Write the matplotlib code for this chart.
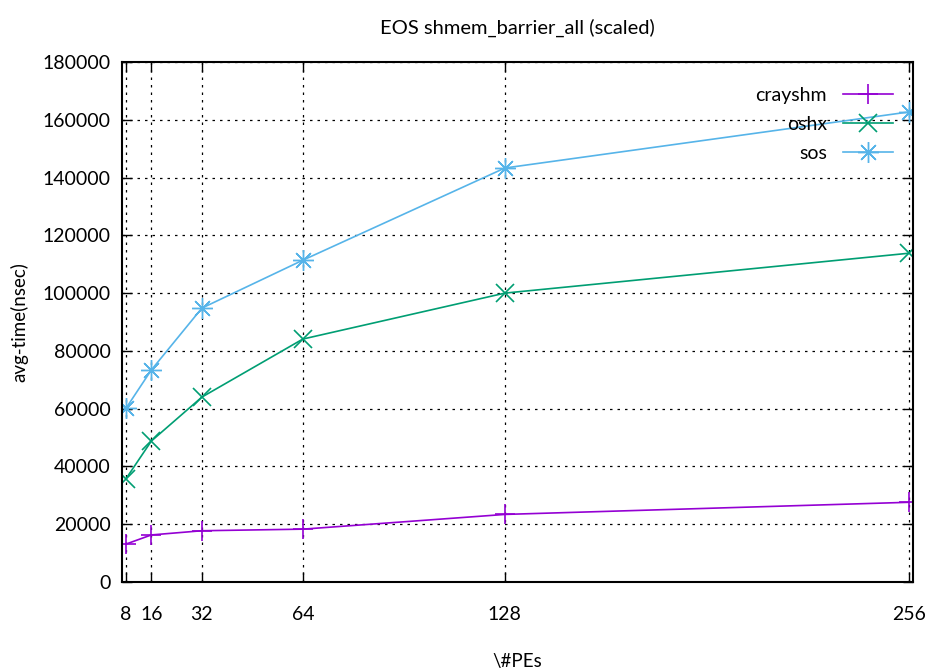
import matplotlib
matplotlib.use("Agg")
import matplotlib.pyplot as plt

plt.rcParams['font.family'] = ['Lato', 'DejaVu Sans']

pes = [8, 16, 32, 64, 128, 256]
crayshm = [13150, 16300, 17750, 18300, 23400, 27600]
oshx = [35800, 48800, 64000, 84100, 100000, 113800]
sos = [60200, 73400, 94800, 111400, 143300, 162700]
y_ticks = list(range(0, 180001, 20000))

fig = plt.figure(figsize=(9.32, 6.7), dpi=100)
ax = fig.add_axes([0.1309, 0.1313, 0.8487, 0.7762])

ax.plot(pes, crayshm, color='#9400d3', lw=1.2, marker='+', ms=14, mew=1.2,
        label='crayshm')
ax.plot(pes, oshx, color='#009e73', lw=1.2, marker='x', ms=13, mew=1.2,
        label='oshx')
ax.plot(pes, sos, color='#56b4e9', lw=1.2, marker=(8, 2, 0), ms=15, mew=1.0,
        label='sos')

ax.set_xlim(6.7, 257.3)
ax.set_ylim(0, 180000)
ax.set_xticks(pes)
ax.set_xticklabels([str(p) for p in pes])
ax.set_yticks(y_ticks)
ax.set_yticklabels([str(v) for v in y_ticks])

ax.grid(True, color='black', linestyle=(0, (2, 4)), linewidth=0.9)
ax.tick_params(direction='in', length=7, width=1, top=True, right=True,
               labelsize=14)
ax.tick_params(axis='x', pad=17)
ax.tick_params(axis='y', pad=8)
for s in ax.spines.values():
    s.set_linewidth(1.5)

ax.set_title('EOS shmem_barrier_all (scaled)', fontsize=14.5, pad=20)
ax.set_xlabel('\\#PEs', fontsize=13.5, labelpad=22)
ax.set_ylabel('avg-time(nsec)', fontsize=13.5, labelpad=10)

ax.legend(loc='upper right', frameon=False, markerfirst=False, fontsize=14,
          handlelength=2.6, labelspacing=0.6, bbox_to_anchor=(0.997, 0.985))

fig.savefig('out.png', dpi=100)
